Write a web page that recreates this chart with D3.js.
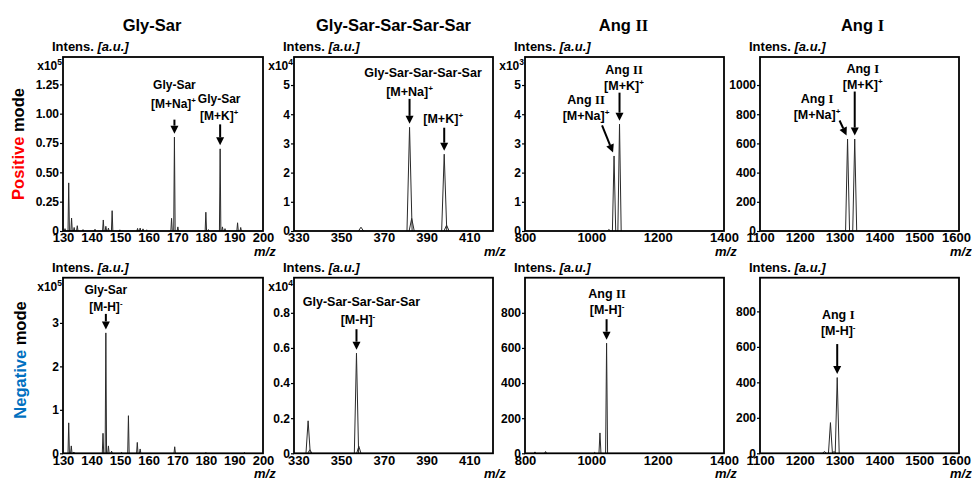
<!DOCTYPE html>
<html>
<head>
<meta charset="utf-8">
<script src="https://cdn.jsdelivr.net/npm/d3@7"></script>
<style>
  body { margin: 0; background: #fff; }
  svg { font-family: "Liberation Sans", Arial, sans-serif; font-weight: bold; }
</style>
</head>
<body>
<svg id="chart" width="972" height="480"></svg>
<script>
// peak lists: [m/z, intensity in the panel's unit]
const glySarPos = [
  [130.7, 0.02], [132, 0.41], [133, 0.11], [133.9, 0.03], [135, 0.045], [137, 0.012],
  [141.2, 0.015], [144.1, 0.094], [145, 0.04], [145.9, 0.025], [147.2, 0.173], [149.9, 0.01],
  [156.1, 0.022], [157, 0.025], [158, 0.018], [159.3, 0.01], [168, 0.108], [169, 0.80],
  [170.2, 0.035], [180, 0.16], [180.9, 0.012], [185, 0.70], [185.8, 0.035], [186.7, 0.02],
  [191.1, 0.07], [192.2, 0.03]
];
const glySarNeg = [
  [132, 0.70], [132.9, 0.17], [133.8, 0.03], [144, 0.46], [145, 2.77], [145.9, 0.17],
  [147, 0.05], [150.5, 0.02], [152.9, 0.865], [156, 0.25], [157, 0.10], [169.1, 0.15],
  [180, 0.02], [193.5, 0.02]
];
const gsssPos = [[359.3, 0.13], [382, 3.55], [383, 0.43], [398.2, 2.63], [399.3, 0.2]];
const gsssNeg = [[334.6, 0.185], [335.4, 0.02], [357.2, 0.57], [358.3, 0.04]];
const angIIPos = [[1053, 0.05], [1068.5, 2.57], [1085, 3.66]];
const angIINeg = [[830, 8], [862, 10], [1010, 5], [1026, 116], [1046, 627]];
const angIPos = [[1320, 630], [1338, 630]];
const angINeg = [[1262, 10], [1277, 173], [1286, 10], [1294, 427]];

const TITLES = ['Gly-Sar', 'Gly-Sar-Sar-Sar-Sar', 'Ang II', 'Ang I'];
const ROW_LABELS = [['Positive', ' mode', '#FF0000'], ['Negative', ' mode', '#0070C0']];

const fmt2 = v => v === 0 ? '0' : d3.format('.2f')(v);
const fmt1 = v => v === 0 ? '0' : d3.format('.1f')(v);
const fmt0 = d3.format('d');

const PANELS = [
  { row: 0, col: 0, data: glySarPos, hw: 0.25, x: [130, 200], xt: d3.range(130, 201, 10), y: [0, 1.483], yt: [0, 0.25, 0.5, 0.75, 1, 1.25], yf: fmt2, exp: '5' },
  { row: 0, col: 1, data: gsssPos, hw: 1.2, x: [328, 421], xt: d3.range(330, 411, 20), y: [0, 5.96], yt: d3.range(0, 6), yf: fmt0, exp: '4' },
  { row: 0, col: 2, data: angIIPos, hw: 5, x: [800, 1400], xt: d3.range(800, 1401, 200), y: [0, 5.96], yt: d3.range(0, 6), yf: fmt0, exp: '3' },
  { row: 0, col: 3, data: angIPos, hw: 5, x: [1100, 1600], xt: d3.range(1100, 1601, 100), y: [0, 1192], yt: d3.range(0, 1001, 200), yf: fmt0, exp: null },
  { row: 1, col: 0, data: glySarNeg, hw: 0.25, x: [130, 200], xt: d3.range(130, 201, 10), y: [0, 4.04], yt: [0, 1, 2, 3], yf: fmt0, exp: '5' },
  { row: 1, col: 1, data: gsssNeg, hw: 1.0, x: [328, 421], xt: d3.range(330, 411, 20), y: [0, 1.0], yt: [0, 0.2, 0.4, 0.6, 0.8], yf: fmt1, exp: '4' },
  { row: 1, col: 2, data: angIINeg, hw: 3, x: [800, 1400], xt: d3.range(800, 1401, 200), y: [0, 1000], yt: d3.range(0, 801, 200), yf: fmt0, exp: null },
  { row: 1, col: 3, data: angINeg, hw: 5, x: [1100, 1600], xt: d3.range(1100, 1601, 100), y: [0, 990], yt: d3.range(0, 801, 200), yf: fmt0, exp: null }
];

// arrow annotations: anchored on a peak, text lines placed relative to the arrow tail
const ANNOTATIONS = [
  { p: 0, mz: 169, v: 0.80, len: 14, dx: 0, fs: 12, lines: [['Gly-Sar', 0, -35], ['[M+Na]^+', -1, -16]] },
  { p: 0, mz: 185, v: 0.70, len: 21, dx: 0, fs: 12, lines: [['Gly-Sar', -1, -25.5], ['[M+K]^+', -1, -9]] },
  { p: 1, mz: 382, v: 3.55, len: 25, dx: 0, lines: [['Gly-Sar-Sar-Sar-Sar', 13.5, -26.5], ['[M+Na]^+', 0, -7.5]] },
  { p: 1, mz: 398.2, v: 2.63, len: 23, dx: 0, lines: [['[M+K]^+', -1, -9.5]] },
  { p: 2, mz: 1085, v: 3.66, len: 28, dx: 0, lines: [['Ang II', 4.5, -23.5], ['[M+K]^+', 4.5, -7.5]] },
  { p: 2, mz: 1068.5, v: 2.57, len: 27, dx: 11, lines: [['Ang II', -16, -26], ['[M+Na]^+', -16, -9.5]] },
  { p: 3, mz: 1338, v: 630, len: 44, dx: 0, lines: [['Ang I', 8, -23.5], ['[M+K]^+', 8, -7.5]] },
  { p: 3, mz: 1320, v: 630, len: 15, dx: 7, lines: [['Ang I', -22.5, -22.5], ['[M+Na]^+', -22.5, -6]] },
  { p: 4, mz: 145, v: 2.77, len: 15.5, dx: 0, fs: 12, lines: [['Gly-Sar', 0, -24], ['[M-H]^-', 0, -7.5]] },
  { p: 5, mz: 357.2, v: 0.57, len: 20.5, dx: 0, lines: [['Gly-Sar-Sar-Sar-Sar', 5, -27.5], ['[M-H]^-', 1.5, -9.5]] },
  { p: 6, mz: 1046, v: 627, len: 20.5, dx: 0, lines: [['Ang II', 0.5, -26], ['[M-H]^-', 0.5, -9.5]] },
  { p: 7, mz: 1294, v: 427, len: 30, dx: 0, lines: [['Ang I', 1, -30], ['[M-H]^-', 1, -14]] }
];

const COLS = [[63, 263], [294, 493], [525, 724], [760, 959]];
const ROWS = [[57, 231], [277.7, 453.3]];
const TITLE_DX = [-11, 0, -1, 3];

const svg = d3.select('#chart');

// writes a label: roman numerals in serif, ^x as a superscript
function richText(sel, str, size) {
  const m = str.match(/^(.*?)\^(.)$/);
  const main = m ? m[1] : str;
  const sup = m ? m[2] : null;
  const r = main.match(/^(Ang )(I+)$/);
  if (r) {
    sel.append('tspan').text(r[1]);
    sel.append('tspan').attr('font-family', '"Liberation Serif", "Times New Roman", serif').text(r[2]);
  } else {
    sel.append('tspan').text(main);
  }
  if (sup) {
    sel.append('tspan').attr('dy', -size * 0.4).attr('font-size', size * 0.65).text(sup);
  }
}

// column titles
TITLES.forEach((t, i) => {
  const txt = svg.append('text')
    .attr('x', (COLS[i][0] + COLS[i][1]) / 2 + TITLE_DX[i])
    .attr('y', 31)
    .attr('text-anchor', 'middle')
    .attr('font-size', 16.5);
  richText(txt, t, 16.5);
});

// row labels
ROW_LABELS.forEach(([a, b, c], i) => {
  const txt = svg.append('text')
    .attr('transform', `translate(${i === 0 ? 24 : 25.5},${i === 0 ? 144 : 360}) rotate(-90)`)
    .attr('text-anchor', 'middle')
    .attr('font-size', 16.5);
  txt.append('tspan').attr('fill', c).text(a);
  txt.append('tspan').attr('fill', '#000').text(b);
});

const scales = PANELS.map(p => {
  const [x0, x1] = COLS[p.col];
  const [y0, y1] = ROWS[p.row];
  const x = d3.scaleLinear().domain(p.x).range([x0, x1]);
  const y = d3.scaleLinear().domain(p.y).range([y1, y0]);
  const g = svg.append('g');

  const clipId = `clip${p.row}${p.col}`;
  g.append('clipPath').attr('id', clipId)
    .append('rect').attr('x', x0).attr('y', y0).attr('width', x1 - x0).attr('height', y1 - y0);

  // spectrum peaks
  g.append('g').attr('clip-path', `url(#${clipId})`)
    .selectAll('path')
    .data(p.data)
    .join('path')
    .attr('d', d => `M${x(d[0] - p.hw)},${y(0)}L${x(d[0])},${y(d[1])}L${x(d[0] + p.hw)},${y(0)}`)
    .attr('fill', 'none')
    .attr('stroke', '#2a2a2a')
    .attr('stroke-width', 1);

  // y axis
  const ya = g.append('g')
    .attr('transform', `translate(${x0},0)`)
    .call(d3.axisLeft(y).tickValues(p.yt).tickFormat(p.yf).tickSize(3).tickPadding(1));
  ya.select('.domain').remove();
  ya.selectAll('line').attr('stroke', '#000').attr('stroke-width', 1.2);
  ya.selectAll('text').attr('font-size', 12).attr('font-family', null).attr('fill', '#000');

  // x axis labels (no tick marks)
  const xa = g.append('g')
    .attr('transform', `translate(0,${y1})`)
    .call(d3.axisBottom(x).tickValues(p.xt).tickFormat(fmt0).tickSize(0).tickPadding(2));
  xa.select('.domain').remove();
  xa.selectAll('text').attr('font-size', 13).attr('font-family', null).attr('fill', '#000');
  if (p.col === 3) {
    xa.selectAll('text').filter(d => d === p.xt[p.xt.length - 1]).attr('dx', -3);
  }

  // frame
  g.append('rect')
    .attr('x', x0).attr('y', y0).attr('width', x1 - x0).attr('height', y1 - y0)
    .attr('fill', 'none').attr('stroke', '#000').attr('stroke-width', 1.8);

  // "Intens. [a.u.]"
  const it = g.append('text')
    .attr('x', x0 - 11).attr('y', y0 - 6)
    .attr('font-size', 13);
  it.append('tspan').text('Intens. ');
  it.append('tspan').attr('font-style', 'italic').text('[a.u.]');

  // exponent
  if (p.exp) {
    const ex = g.append('text')
      .attr('x', x0 - 1).attr('y', y0 + 13)
      .attr('text-anchor', 'end')
      .attr('font-size', 12);
    ex.append('tspan').text('x10');
    ex.append('tspan').attr('dy', -5).attr('font-size', 8.5).text(p.exp);
  }

  // m/z
  g.append('text')
    .attr('x', x1 - 9).attr('y', y1 + 25)
    .attr('font-size', 13).attr('font-style', 'italic')
    .text('m/z');

  return { x, y };
});

// arrows and peak labels
ANNOTATIONS.forEach(a => {
  const { x, y } = scales[a.p];
  const fs = a.fs || 12.5;
  const tipX = x(a.mz) - (a.dx ? 1 : 0);
  const tipY = y(a.v) - 3.5;
  const tailX = tipX - a.dx;
  const tailY = tipY - a.len;
  const L = Math.hypot(tipX - tailX, tipY - tailY);
  const ux = (tipX - tailX) / L, uy = (tipY - tailY) / L;
  const head = 8, hwid = 4;
  const bx = tipX - ux * head, by = tipY - uy * head;

  svg.append('line')
    .attr('x1', tailX).attr('y1', tailY).attr('x2', bx).attr('y2', by)
    .attr('stroke', '#000').attr('stroke-width', 2);
  svg.append('path')
    .attr('d', `M${tipX},${tipY}L${bx - uy * hwid},${by + ux * hwid}L${bx + uy * hwid},${by - ux * hwid}Z`)
    .attr('fill', '#000');

  a.lines.forEach(([t, tx, ty]) => {
    const txt = svg.append('text')
      .attr('x', tailX + tx).attr('y', tailY + ty + 4.5)
      .attr('text-anchor', 'middle')
      .attr('font-size', fs);
    richText(txt, t, fs);
  });
});
</script>
</body>
</html>
